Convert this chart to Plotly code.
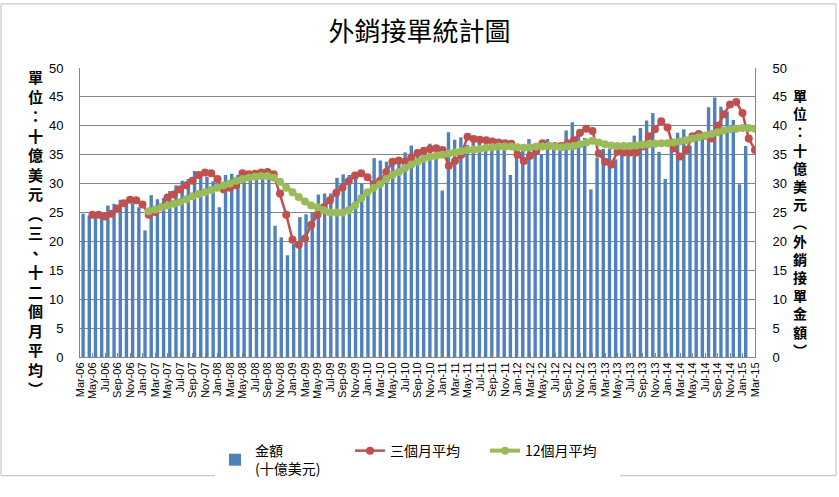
import plotly.graph_objects as go

# ---------------- data ----------------
months = []
mnames = ["Jan", "Feb", "Mar", "Apr", "May", "Jun", "Jul", "Aug", "Sep", "Oct", "Nov", "Dec"]
for k in range(109):
    m = (2 + k) % 12
    y = 6 + (2 + k) // 12
    months.append(f"{mnames[m]}-{y:02d}")

# 金額 (十億美元) - bars as they sit in the chart (first 108 category slots)
amount = [
    24.8, 24.5, 24.3, 24.7, 26.2, 26.5, 27.2, 27.0, 26.6, 25.9,
    21.9, 28.0, 27.3, 27.5, 28.7, 29.7, 30.5, 30.8, 32.2, 31.8,
    31.2, 30.4, 25.9, 31.5, 31.7, 31.5, 32.0, 31.6, 31.3, 31.6,
    31.8, 22.7, 20.7, 17.6, 19.6, 24.2, 24.7, 25.0, 28.1, 28.3,
    28.3, 31.0, 31.6, 31.5, 31.3, 30.0, 28.5, 34.4, 34.0, 33.8,
    34.2, 33.4, 35.4, 36.6, 35.1, 36.3, 36.9, 35.0, 28.8, 38.9,
    37.6, 38.0, 36.7, 37.8, 38.0, 36.1, 37.2, 37.7, 35.8, 31.5,
    34.5, 36.6, 37.7, 36.7, 35.1, 37.7, 36.7, 36.6, 39.2, 40.6,
    38.7, 37.9, 29.0, 34.5, 36.0, 36.0, 34.2, 36.0, 36.0, 38.3,
    39.6, 40.9, 42.2, 35.5, 30.8, 37.8, 38.8, 39.4, 36.6, 38.9,
    37.9, 43.2, 44.9, 43.3, 42.5, 41.0, 29.9, 36.5,
]

# 三個月平均 (from May-06 to Mar-15)
avg3_start = 2
avg3 = [
    24.6, 24.6, 24.3, 24.8, 25.7, 26.6, 27.2, 27.1, 26.4, 24.6,
    25.1, 25.9, 27.6, 28.1, 29.0, 29.7, 30.5, 31.5, 31.9, 31.8,
    30.8, 29.0, 29.3, 29.7, 31.8, 31.6, 31.7, 31.9, 32.0, 31.6,
    28.3, 24.6, 20.3, 19.4, 20.5, 22.9, 24.6, 25.9, 27.1, 28.4,
    29.3, 30.4, 31.4, 31.8, 31.1, 29.8, 30.5, 32.0, 33.8, 34.0,
    33.8, 34.5, 35.3, 35.7, 36.0, 36.1, 35.8, 33.1, 33.9, 35.0,
    38.1, 37.7, 37.6, 37.5, 37.3, 37.1, 37.0, 36.9, 35.0, 33.9,
    34.8, 35.6, 37.0, 36.5, 36.5, 36.5, 37.0, 37.5, 38.8, 39.5,
    39.1, 35.2, 33.8, 33.3, 35.5, 35.4, 35.4, 35.4, 36.4, 38.2,
    39.4, 40.8, 39.7, 36.1, 34.7, 35.8, 38.2, 38.6, 38.3, 37.8,
    40.0, 42.0, 43.7, 44.1, 42.2, 37.8, 35.8,
]

# 12個月平均 (from Feb-07 to Mar-15)
avg12_start = 11
avg12 = [
    25.2, 25.5, 25.9, 26.2, 26.5, 26.8, 27.3, 27.8, 28.2, 28.5,
    28.9, 29.3, 29.7, 30.0, 30.5, 30.8, 31.0, 31.2, 31.3, 31.3,
    31.0, 30.3, 29.3, 28.5, 27.7, 26.9, 26.2, 25.9, 25.4, 25.0,
    25.0, 25.0, 25.4, 26.2, 27.5, 28.5, 29.3, 29.9, 30.8, 31.5,
    32.0, 32.7, 33.3, 33.8, 34.3, 34.6, 34.8, 35.0, 35.2, 35.4,
    35.6, 35.8, 35.9, 36.0, 36.2, 36.3, 36.4, 36.4, 36.4, 36.3,
    36.2, 36.3, 36.4, 36.4, 36.5, 36.4, 36.3, 36.4, 36.5, 36.8,
    37.1, 37.4, 37.1, 36.8, 36.6, 36.5, 36.5, 36.5, 36.6, 36.7,
    36.8, 36.9, 37.0, 37.0, 37.1, 37.3, 37.5, 37.8, 38.0, 38.3,
    38.6, 38.9, 39.2, 39.4, 39.5, 39.6, 39.6, 39.5,
]

yticks = list(range(0, 51, 5))

# ---------------- colours ----------------
BLUE = "#4F81BD"
RED = "#C0504D"
GREEN = "#9BBB59"
GRID = "#868686"
FONT_CJK = "Noto Sans CJK TC"
FONT_NUM = "Liberation Sans, Arial, sans-serif"

fig = go.Figure()

fig.add_trace(go.Bar(
    x=list(range(len(amount))), y=amount,
    name="金額<br>(十億美元)",
    marker=dict(color=BLUE, line=dict(width=0)),
    xaxis="x", yaxis="y",
))

# same amounts, invisible, so that the right-hand value axis is drawn
fig.add_trace(go.Scatter(
    x=list(range(len(amount))), y=amount, mode="markers",
    marker=dict(opacity=0, size=1), showlegend=False, hoverinfo="skip",
    xaxis="x", yaxis="y2",
))

fig.add_trace(go.Scatter(
    x=list(range(avg3_start, avg3_start + len(avg3))), y=avg3,
    name="三個月平均", mode="lines+markers",
    line=dict(color=RED, width=2.5),
    marker=dict(color=RED, size=8),
    xaxis="x2", yaxis="y",
))

fig.add_trace(go.Scatter(
    x=list(range(avg12_start, avg12_start + len(avg12))), y=avg12,
    name="12個月平均", mode="lines+markers",
    line=dict(color=GREEN, width=4),
    marker=dict(color=GREEN, size=8),
    xaxis="x2", yaxis="y",
))

L, R, T, B = 80, 84, 68, 127
W, H = 839, 497

fig.update_layout(
    width=W, height=H,
    margin=dict(l=L, r=R, t=T, b=B),
    paper_bgcolor="white", plot_bgcolor="white",
    bargap=0.45,
    showlegend=True,
    legend=dict(
        orientation="h", x=0.5, xanchor="center", y=-0.27, yanchor="top",
        font=dict(family=FONT_CJK, size=14, color="#000"),
        entrywidth=90, itemwidth=30, traceorder="normal",
    ),
    title=dict(
        text="外銷接單統計圖", x=0.5, xanchor="center", y=0.935, yanchor="middle",
        font=dict(family=FONT_CJK, size=26, color="#000"),
    ),
    xaxis=dict(
        range=[-0.5, 108.5], showticklabels=False, showgrid=False,
        zeroline=False, showline=False, ticks="",
    ),
    xaxis2=dict(
        overlaying="x", range=[0, 108],
        tickmode="array", tickvals=list(range(0, 109, 2)),
        ticktext=months[::2], tickangle=-90,
        tickfont=dict(family=FONT_NUM, size=11, color="#000"),
        showgrid=False, zeroline=False,
        showline=True, linecolor=GRID, linewidth=1,
        ticks="inside", ticklen=4, tickcolor=GRID,
        anchor="y", side="bottom",
    ),
    yaxis=dict(
        range=[0, 50], tickvals=yticks,
        tickfont=dict(family=FONT_NUM, size=13, color="#000"),
        showgrid=True, gridcolor=GRID, gridwidth=1,
        zeroline=False, showline=True, linecolor=GRID, linewidth=1,
        ticks="", ticklabelstandoff=13,
    ),
    yaxis2=dict(
        range=[0, 50], tickvals=yticks, overlaying="y", side="right",
        anchor="x",
        tickfont=dict(family=FONT_NUM, size=13, color="#000"),
        showgrid=False, zeroline=False, showline=True,
        linecolor=GRID, linewidth=1, ticks="", ticklabelstandoff=14,
    ),
)

left_title = "單位：十億美元︵三、十二個月平均︶"
right_title = "單位：十億美元︵外銷接單金額︶"
fig.add_annotation(
    text="<br>".join(left_title), xref="paper", yref="paper",
    x=-45 / 675, y=0.43, xanchor="center", yanchor="middle",
    showarrow=False, align="center",
    font=dict(family=FONT_CJK, size=15, color="#000", weight="bold"),
)
fig.add_annotation(
    text="<br>".join(right_title), xref="paper", yref="paper",
    x=1 + 45 / 675, y=0.467, xanchor="center", yanchor="middle",
    showarrow=False, align="center",
    font=dict(family=FONT_CJK, size=14, color="#000", weight="bold"),
)

# chart-area frame
pw, ph = W - L - R, H - T - B
fig.add_shape(
    type="rect", xref="paper", yref="paper",
    x0=-(L - 1) / pw, x1=1 + (R - 3) / pw, y0=-(B - 3) / ph, y1=1 + (T - 1) / ph,
    line=dict(color="#BFBFBF", width=1), layer="above",
)

fig.write_html("out.html")
